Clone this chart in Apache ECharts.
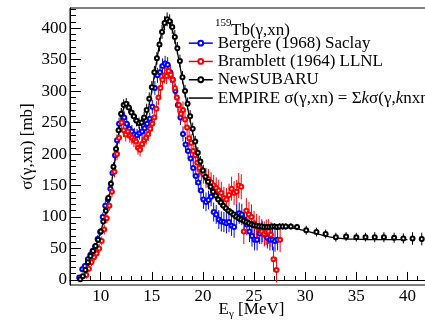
<!DOCTYPE html>
<html><head><meta charset="utf-8">
<script src="https://cdn.jsdelivr.net/npm/echarts@6/dist/echarts.min.js"></script>
<style>html,body{margin:0;padding:0;background:#fff}#c{width:425px;height:324px}</style>
</head><body><div id="c"></div><script>
// [E (MeV), sigma (mb), error (mb)]
const bergere = [[7.9,4,4],[8.2,17,5],[8.45,22,5],[8.75,33,5],[9.0,40,5],[9.2,46,5],[9.45,53,5],[9.7,65,6],[9.95,76,6],[10.2,100,7],[10.45,118,7],[10.7,128,7],[10.95,145,8],[11.15,170,8],[11.4,198,9],[11.6,222,9],[11.8,248,10],[12.05,263,10],[12.3,258,10],[12.55,248,10],[12.8,240,10],[13.05,236,10],[13.3,231,10],[13.55,230,10],[13.8,233,10],[14.05,236,10],[14.3,241,10],[14.55,248,10],[14.8,256,10],[15.05,275,11],[15.3,305,11],[15.55,325,12],[15.8,330,12],[16.05,340,12],[16.3,344,12],[16.55,342,12],[16.8,330,12],[17.05,318,12],[17.3,300,12],[17.55,278,12],[17.8,258,12],[18.05,232,12],[18.3,215,12],[18.55,205,13],[18.8,193,13],[19.05,178,14],[19.3,165,14],[19.55,155,15],[19.8,142,15],[20.05,128,15],[20.3,124,15],[20.55,127,15],[20.8,132,15],[21.05,108,15],[21.3,104,15],[21.55,96,15],[21.8,93,16],[22.05,92,16],[22.3,90,16],[22.55,92,16],[22.8,86,16],[23.05,84,17],[23.3,104,17],[23.55,106,17],[23.8,104,17],[24.05,96,17],[24.3,88,17],[24.55,77,17],[24.8,70,17],[25.05,64,17],[25.3,64,17],[25.55,74,17],[25.8,77,17],[26.05,72,17],[26.3,67,17],[26.55,64,17],[26.8,64,17],[27.05,62,17],[27.3,64,17]];
const bramblett = [[8.6,8,6],[8.85,18,6],[9.1,28,6],[9.35,36,7],[9.6,42,7],[9.85,50,7],[10.1,62,7],[10.35,80,8],[10.6,98,8],[10.85,118,8],[11.1,140,9],[11.35,172,9],[11.6,200,10],[11.8,226,10],[12.05,250,11],[12.25,238,11],[12.45,231,11],[12.65,236,11],[12.85,229,11],[13.05,226,11],[13.25,222,11],[13.45,220,11],[13.65,210,11],[13.85,207,11],[14.05,216,11],[14.25,222,11],[14.45,226,11],[14.65,232,11],[14.85,240,12],[15.05,248,12],[15.25,258,12],[15.45,272,12],[15.65,290,12],[15.85,305,13],[16.05,318,13],[16.25,325,13],[16.45,324,13],[16.65,332,13],[16.85,326,13],[17.05,318,13],[17.25,305,13],[17.45,290,13],[17.65,278,13],[17.85,264,13],[18.05,270,14],[18.25,255,14],[18.45,242,14],[18.65,225,14],[18.85,218,14],[19.05,205,15],[19.25,198,15],[19.45,186,15],[19.65,178,15],[19.85,172,15],[20.05,168,15],[20.3,162,16],[20.55,160,16],[20.8,155,16],[21.05,150,17],[21.3,146,17],[21.55,142,17],[21.8,138,18],[22.05,130,18],[22.3,128,18],[22.55,135,18],[22.8,145,19],[23.05,138,19],[23.3,140,19],[23.5,150,20],[23.75,148,20],[24.0,77,20],[24.25,110,20],[24.5,104,20],[24.75,100,20],[25.0,90,20],[25.25,85,20],[25.5,82,20],[25.75,77,20],[26.0,73,20],[26.2,76,20],[26.4,77,20],[26.65,72,20],[26.9,33,20],[27.2,16,20],[27.55,64,20]];
const newSubaru = [[8.0,1,3],[8.25,6,3],[8.5,16,4],[8.75,28,4],[9.0,38,4],[9.25,46,4],[9.5,54,4],[9.75,64,5],[10.0,77,5],[10.25,93,5],[10.5,110,5],[10.75,130,6],[11.0,153,6],[11.25,180,7],[11.5,208,7],[11.75,238,8],[12.0,264,9],[12.25,278,9],[12.5,280,9],[12.75,274,9],[13.0,266,9],[13.25,260,9],[13.5,253,9],[13.75,249,9],[14.0,250,9],[14.25,258,9],[14.5,270,10],[14.75,288,10],[15.0,306,10],[15.25,330,10],[15.5,352,10],[15.75,374,11],[16.0,394,11],[16.25,408,11],[16.5,414,11],[16.75,411,11],[17.0,402,11],[17.25,386,11],[17.5,368,10],[17.75,348,10],[18.0,322,10],[18.25,300,10],[18.5,280,10],[18.75,260,10],[19.0,240,10],[19.25,220,9],[19.5,202,9],[19.75,188,9],[20.0,174,8],[20.25,164,8],[20.5,156,8],[20.75,148,8],[21.0,140,7],[21.25,134,7],[21.5,128,7],[21.75,123,7],[22.0,118,7],[22.25,114,6],[22.5,110,6],[22.75,107,6],[23.0,104,6],[23.25,101,6],[23.5,98,6],[23.75,96,5],[24.0,94,5],[24.25,92,5],[24.5,90,5],[24.75,88,5],[25.0,87,5],[25.25,86,5],[25.5,85,5],[25.75,85,5],[26.0,84,5],[26.25,84,5],[26.5,84,5],[26.75,85,5],[27.0,85,5],[27.25,84,5],[27.5,85,5],[27.8,85,5],[28.1,85,5],[28.6,85,5],[29.2,84,5],[30.1,79,7],[31.1,76,7],[32.0,73,7],[33.0,68,7],[34.0,69,7],[35.0,68,7],[35.9,68,7],[36.8,68,8],[37.7,68,8],[38.7,67,8],[39.6,66,8],[40.5,66,10],[41.4,65,10]];
// EMPIRE calculation [E, sigma]
const empire = [[8.0,0],[8.5,13],[9.0,32],[9.5,53],[10.0,77],[10.5,107],[11.0,148],[11.5,202],[11.9,248],[12.2,270],[12.5,279],[12.8,276],[13.1,267],[13.5,255],[13.9,248],[14.3,254],[14.7,275],[15.1,310],[15.5,350],[15.9,388],[16.2,405],[16.5,411],[16.8,406],[17.1,392],[17.5,362],[18.0,318],[18.5,274],[19.0,234],[19.5,200],[20.0,174],[20.5,154],[21.0,138],[21.5,126],[22.0,116],[22.5,108],[23.0,101],[23.5,96],[24.0,92],[24.5,89],[25.0,87],[25.5,85],[26.0,84],[27.0,83],[28.0,83],[29.0,82],[29.5,80],[30.0,78],[30.5,76],[31.0,74],[31.5,72],[32.0,70],[32.5,68],[33.0,67],[33.5,66],[34.0,65],[35.0,65],[36.0,64],[37.0,64],[38.0,64],[39.0,64],[40.0,64]];
const xMajorTicks = [10,15,20,25,30,35,40];
const xMinorTicks = [7,8,9,10,11,12,13,14,15,16,17,18,19,20,21,22,23,24,25,26,27,28,29,30,31,32,33,34,35,36,37,38,39,40,41,42];
const yMajorTicks = [0,50,100,150,200,250,300,350,400];
const yMinorTicks = [0,10,20,30,40,50,60,70,80,90,100,110,120,130,140,150,160,170,180,190,200,210,220,230,240,250,260,270,280,290,300,310,320,330,340,350,360,370,380,390,400,410,420,430];
const names = ['Bergere (1968) Saclay','Bramblett (1964) LLNL','NewSUBARU','EMPIRE σ(γ,xn) = Σkσ(γ,knxn)'];
const colors = ['#0000ff','#ff0000','#000000','#000000'];

const FONT = '"Liberation Serif", "Times New Roman", serif';
const X_MIN = 7, X_MAX = 42.5, Y_MIN = -8, Y_MAX = 432;

function errSeries(data, color) {
  return {
    type: 'custom', name: 'err', data: data, z: 1, silent: true, clip: true,
    encode: {x: 0, y: 1},
    renderItem: function (params, api) {
      const x = api.value(0), y = api.value(1), e = api.value(2);
      const p1 = api.coord([x, y - e]), p2 = api.coord([x, y + e]);
      return {type: 'line', shape: {x1: p1[0], y1: p1[1], x2: p2[0], y2: p2[1]},
        style: {stroke: color, lineWidth: 1}};
    }
  };
}
function ptSeries(name, data, color) {
  return {
    type: 'line', name: name, data: data.map(d => [d[0], d[1]]), z: 3,
    symbol: 'emptyCircle', symbolSize: 4, showAllSymbol: true, silent: true,
    itemStyle: {color: color, borderColor: color, borderWidth: 1},
    lineStyle: {width: 0, color: color},
    animation: false
  };
}

const chart = echarts.init(document.getElementById('c'), null, {renderer: 'canvas'});
const axisLbl = {fontFamily: FONT, fontSize: 17, color: '#000'};
chart.setOption({
  backgroundColor: '#fff',
  animation: false,
  title: [
    {text: '159', left: 215, top: 18, padding: 0, textStyle: {fontFamily: FONT, fontSize: 11, fontWeight: 'normal', color: '#000'}},
    {text: 'Tb(γ,xn)', left: 231, top: 22, padding: 0, textStyle: {fontFamily: FONT, fontSize: 17, fontWeight: 'normal', color: '#000'}}
  ],
  legend: {
    orient: 'vertical', left: 188, top: 34, padding: 0, itemGap: 0,
    itemWidth: 24, itemHeight: 6, selectedMode: false,
    textStyle: {fontFamily: FONT, fontSize: 17, color: '#000', lineHeight: 18.3,
      rich: {i: {fontFamily: FONT, fontSize: 17, fontStyle: 'italic', color: '#000'}}},
    formatter: function (n) { return n === names[3] ? 'EMPIRE σ(γ,xn) = Σ{i|k}σ(γ,{i|k}nxn)' : n; },
    data: [
      {name: names[0], lineStyle: {width: 1.5, color: colors[0], opacity: 1}},
      {name: names[1], lineStyle: {width: 1.5, color: colors[1], opacity: 1}},
      {name: names[2], lineStyle: {width: 1.5, color: colors[2], opacity: 1}},
      {name: names[3], lineStyle: {width: 1.5, color: colors[3], opacity: 1}, itemStyle: {opacity: 0}}
    ]
  },
  grid: {left: 70, right: -8, top: 8, bottom: 39, show: true, borderColor: '#000', borderWidth: 1,
    containLabel: false, outerBoundsMode: 'none'},
  xAxis: [
    {type: 'value', min: X_MIN, max: X_MAX, position: 'bottom',
      axisLine: {show: true, lineStyle: {color: '#000', width: 1}},
      axisTick: {show: true, inside: true, length: 8, customValues: xMajorTicks, lineStyle: {color: '#000'}},
      axisLabel: Object.assign({customValues: xMajorTicks, margin: 3}, axisLbl),
      splitLine: {show: false},
      name: '{a|E}{b|γ}{a| [MeV]}', nameLocation: 'middle', nameGap: 15, nameMoveOverlap: false,
      nameTextStyle: {rich: {a: {fontFamily: FONT, fontSize: 17, color: '#000'}, b: {fontFamily: FONT, fontSize: 11, color: '#000', padding: [9, 0, 0, 0]}}}
    },
    {type: 'value', min: X_MIN, max: X_MAX, position: 'bottom',
      axisLine: {show: false},
      axisTick: {show: true, inside: true, length: 4, customValues: xMinorTicks, lineStyle: {color: '#000'}},
      axisLabel: {show: false}, splitLine: {show: false}}
  ],
  yAxis: [
    {type: 'value', min: Y_MIN, max: Y_MAX, position: 'left',
      axisLine: {show: true, lineStyle: {color: '#000', width: 1}},
      axisTick: {show: true, inside: true, length: 11, customValues: yMajorTicks, lineStyle: {color: '#000'}},
      axisLabel: Object.assign({customValues: yMajorTicks, margin: 3}, axisLbl),
      splitLine: {show: false},
      name: 'σ(γ,xn) [mb]', nameLocation: 'middle', nameGap: 34, nameMoveOverlap: false,
      nameTextStyle: {fontFamily: FONT, fontSize: 17, color: '#000'}
    },
    {type: 'value', min: Y_MIN, max: Y_MAX, position: 'left',
      axisLine: {show: false},
      axisTick: {show: true, inside: true, length: 6, customValues: yMinorTicks, lineStyle: {color: '#000'}},
      axisLabel: {show: false}, splitLine: {show: false}}
  ],
  series: [
    errSeries(bergere, colors[0]),
    errSeries(bramblett, colors[1]),
    errSeries(newSubaru, colors[2]),
    {type: 'line', name: names[3], data: empire, symbol: 'none', smooth: 0.3, z: 2, silent: true,
      lineStyle: {color: '#000', width: 1.3}, itemStyle: {color: '#000'}},
    ptSeries(names[0], bergere, colors[0]),
    ptSeries(names[1], bramblett, colors[1]),
    ptSeries(names[2], newSubaru, colors[2])
  ]
});
</script></body></html>
